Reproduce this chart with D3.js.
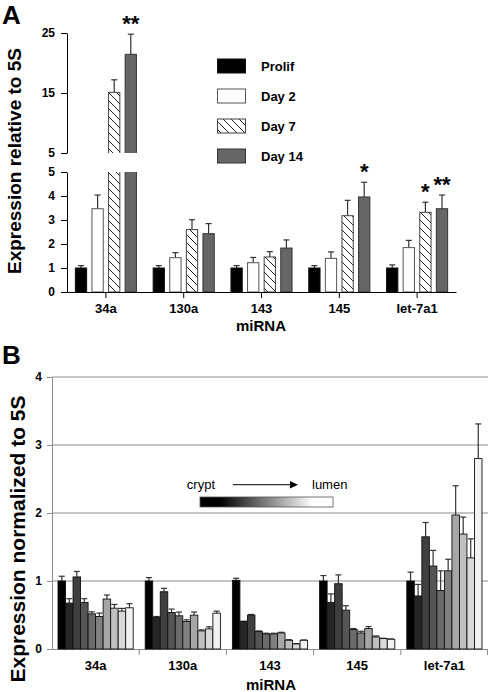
<!DOCTYPE html>
<html><head><meta charset="utf-8">
<script src="https://cdn.jsdelivr.net/npm/d3@7"></script>
<style>body{margin:0;background:#fff}svg{display:block}text{font-family:"Liberation Sans",Arial,sans-serif}</style>
</head><body>
<script>
// ---------- Panel A data ----------
const catsA = ["34a","130a","143","145","let-7a1"];
const seriesA = ["Prolif","Day 2","Day 7","Day 14"];
const prolif = [1.0, 1.0, 1.0, 1.0, 1.0];
const prolifErr = [0.1, 0.1, 0.1, 0.1, 0.13];
const day2 = [3.47, 1.43, 1.22, 1.40, 1.85];
const day2Err = [0.57, 0.21, 0.22, 0.27, 0.30];
const day7 = [15.1, 2.60, 1.46, 3.18, 3.32];
const day7Err = [2.1, 0.41, 0.22, 0.64, 0.42];
const day14 = [21.45, 2.43, 1.83, 3.96, 3.47];
const day14Err = [3.35, 0.42, 0.34, 0.61, 0.57];
const ticksLowA = [0,1,2,3,4,5];
const ticksHighA = [5,15,25];
const starsA = [{cat:"34a",s:"Day 14",t:"**"},{cat:"145",s:"Day 14",t:"*"},{cat:"let-7a1",s:"Day 7",t:"*"},{cat:"let-7a1",s:"Day 14",t:"**"}];

// ---------- Panel B data ----------
const catsB = ["34a","130a","143","145","let-7a1"];
const vals34a = [1.0, 0.675, 1.06, 0.685, 0.517, 0.478, 0.734, 0.60, 0.557, 0.606];
const err34a  = [0.07, 0.065, 0.08, 0.055, 0.03, 0.05, 0.06, 0.055, 0.04, 0.06];
const vals130a = [1.0, 0.468, 0.842, 0.537, 0.488, 0.404, 0.498, 0.266, 0.296, 0.527];
const err130a  = [0.05, 0.01, 0.05, 0.05, 0.055, 0.025, 0.045, 0.015, 0.03, 0.03];
const vals143 = [1.01, 0.404, 0.498, 0.256, 0.222, 0.222, 0.236, 0.128, 0.074, 0.128];
const err143  = [0.03, 0.005, 0.01, 0.01, 0.01, 0.01, 0.01, 0.01, 0.005, 0.005];
const vals145 = [1.0, 0.685, 0.96, 0.571, 0.286, 0.236, 0.30, 0.177, 0.153, 0.143];
const err145  = [0.08, 0.125, 0.13, 0.065, 0.015, 0.025, 0.03, 0.015, 0.005, 0.005];
const valsLet = [1.0, 0.78, 1.65, 1.22, 0.86, 1.15, 1.97, 1.69, 1.34, 2.80];
const errLet  = [0.13, 0.17, 0.21, 0.23, 0.29, 0.17, 0.43, 0.25, 0.28, 0.51];
const positionsB = d3.range(10);
const ticksB = [0,1,2,3,4];

const W = 488, H = 692;
const svg = d3.select("body").append("svg").attr("width", W).attr("height", H);
const defs = svg.append("defs");
const pat = defs.append("pattern").attr("id","hatch").attr("patternUnits","userSpaceOnUse")
  .attr("width",8).attr("height",8);
pat.append("rect").attr("width",8).attr("height",8).attr("fill","#fff");
pat.append("path").attr("d","M-2,-2L10,10M-2,6L2,10M6,-2L10,2").attr("stroke","#222").attr("stroke-width",1);

// ================= Panel A =================
const A = svg.append("g");
const x0A = d3.scaleBand().domain(catsA).range([67, 456]);
const x1A = d3.scaleBand().domain(seriesA).range([-33.2, 33.2]).paddingInner(0.32).paddingOuter(0.16);
const yLow = d3.scaleLinear().domain([0,5]).range([292,172]);
const yHigh = d3.scaleLinear().domain([5,25]).range([153,33]);
const yA = v => v <= 5 ? yLow(v) : yHigh(v);
const fills = {"Prolif":"#000","Day 2":"#fff","Day 7":"url(#hatch)","Day 14":"#666"};
const strokes = {"Prolif":"#111","Day 2":"#555","Day 7":"#444","Day 14":"#333"};
const valsA = {"Prolif":prolif,"Day 2":day2,"Day 7":day7,"Day 14":day14};
const errsA = {"Prolif":prolifErr,"Day 2":day2Err,"Day 7":day7Err,"Day 14":day14Err};
const rowsA = [];
seriesA.forEach(s => catsA.forEach((c,i) => rowsA.push({s, c, v: valsA[s][i], e: errsA[s][i]})));
const cx = d => x0A(d.c) + x0A.bandwidth()/2 + x1A(d.s);
const bwA = x1A.bandwidth();

rowsA.forEach(d => {
  const xm = cx(d) + bwA/2, yt = yA(d.v + d.e), yb = yA(d.v);
  A.append("line").attr("x1",xm).attr("x2",xm).attr("y1",yt).attr("y2",yb).attr("stroke","#333").attr("stroke-width",1.2);
  A.append("line").attr("x1",xm-3).attr("x2",xm+3).attr("y1",yt).attr("y2",yt).attr("stroke","#333").attr("stroke-width",1.2);
});
rowsA.forEach(d => {
  const x = cx(d), w = bwA;
  if (d.v <= 5) {
    A.append("rect").attr("x",x).attr("y",yLow(d.v)).attr("width",w).attr("height",yLow(0)-yLow(d.v))
      .attr("fill",fills[d.s]).attr("stroke",strokes[d.s]).attr("stroke-width",1);
  } else {
    A.append("rect").attr("x",x).attr("y",yLow(5)).attr("width",w).attr("height",yLow(0)-yLow(5)).attr("fill",fills[d.s]);
    A.append("path").attr("d",`M${x},${yLow(5)}V${yLow(0)}H${x+w}V${yLow(5)}`).attr("fill","none").attr("stroke",strokes[d.s]);
    A.append("rect").attr("x",x).attr("y",yHigh(d.v)).attr("width",w).attr("height",yHigh(5)-yHigh(d.v)).attr("fill",fills[d.s]);
    A.append("path").attr("d",`M${x},${yHigh(5)}V${yHigh(d.v)}H${x+w}V${yHigh(5)}`).attr("fill","none").attr("stroke",strokes[d.s]);
  }
});
const axStyle = g => { g.selectAll("path,line").attr("stroke","#000"); g.selectAll("text").attr("font-size",12).attr("font-weight","bold").attr("fill","#000"); };
const fmt = d3.format("d");
A.append("g").attr("transform","translate(67,0)").call(d3.axisLeft(yLow).tickValues(ticksLowA).tickFormat(fmt).tickSize(6).tickSizeOuter(0).tickPadding(6)).call(axStyle);
A.append("g").attr("transform","translate(67,0)").call(d3.axisLeft(yHigh).tickValues(ticksHighA).tickFormat(fmt).tickSize(6).tickSizeOuter(0).tickPadding(6)).call(axStyle);
const xaA = A.append("g").attr("transform","translate(0,292)").call(d3.axisBottom(x0A).tickSize(6).tickSizeOuter(0).tickPadding(6)).call(axStyle);
xaA.selectAll("text").attr("font-size",13);
starsA.forEach(st => {
  const i = catsA.indexOf(st.cat);
  const d = {c: st.cat, s: st.s};
  const top = yA(valsA[st.s][i] + errsA[st.s][i]);
  A.append("text").attr("x", cx(d)+bwA/2).attr("y", top - 16 + 12.5).attr("text-anchor","middle")
    .attr("font-size",22).attr("font-weight","bold").text(st.t);
});
seriesA.forEach((s,i) => {
  const y = 59 + i*30;
  A.append("rect").attr("x",217.5).attr("y",y).attr("width",28).attr("height",14).attr("fill",fills[s]).attr("stroke",strokes[s]);
  A.append("text").attr("x",261).attr("y",y+12).attr("font-size",13).attr("font-weight","bold").text(s);
});
A.append("text").attr("x",2).attr("y",24).attr("font-size",26).attr("font-weight","bold").text("A");
A.append("text").attr("transform","translate(21,161) rotate(-90)").attr("text-anchor","middle")
  .attr("font-size",19).attr("font-weight","bold").text("Expression relative to 5S");
A.append("text").attr("x",261).attr("y",331).attr("text-anchor","middle").attr("font-size",15).attr("font-weight","bold").text("miRNA");

// ================= Panel B =================
const B = svg.append("g");
const x0B = d3.scaleBand().domain(catsB).range([52, 488]);
const x1B = d3.scaleBand().domain(positionsB).range([6, 81.2]);
const yB = d3.scaleLinear().domain([0,4]).range([649,377]);
const shades = ["#000000","#262626","#3f3f3f","#555555","#6b6b6b","#808080","#a6a6a6","#bfbfbf","#d9d9d9","#f2f2f2"];
const valsB = [vals34a, vals130a, vals143, vals145, valsLet];
const errsB = [err34a, err130a, err143, err145, errLet];

B.append("g").selectAll("line").data(ticksB.slice(1)).join("line")
  .attr("x1",52).attr("x2",488).attr("y1",d=>yB(d)).attr("y2",d=>yB(d)).attr("stroke","#8c8c8c").attr("stroke-width",1);
const axB = g => { g.selectAll("path,line").attr("stroke","#8c8c8c"); g.selectAll("text").attr("font-size",12).attr("font-weight","bold").attr("fill","#000"); };
B.append("g").attr("transform","translate(52,0)").call(d3.axisLeft(yB).tickValues(ticksB).tickFormat(fmt).tickSize(5).tickSizeOuter(0).tickPadding(5)).call(axB);
const xB = B.append("g").attr("transform","translate(0,649)").call(d3.axisBottom(x0B).tickSize(0).tickPadding(12)).call(axB);
xB.selectAll("text").attr("font-size",13);
B.append("g").selectAll("line").data(catsB.slice(1)).join("line")
  .attr("x1",d=>x0B(d)).attr("x2",d=>x0B(d)).attr("y1",649).attr("y2",655).attr("stroke","#8c8c8c");
B.append("line").attr("x1",487.5).attr("x2",487.5).attr("y1",649).attr("y2",655).attr("stroke","#8c8c8c");

catsB.forEach((c,gi) => {
  positionsB.forEach(p => {
    const v = valsB[gi][p], e = errsB[gi][p];
    const x = x0B(c) + x1B(p), w = x1B.bandwidth(), xm = x + w/2;
    B.append("line").attr("x1",xm).attr("x2",xm).attr("y1",yB(v+e)).attr("y2",yB(v)).attr("stroke","#333").attr("stroke-width",1.2);
    B.append("line").attr("x1",xm-3).attr("x2",xm+3).attr("y1",yB(v+e)).attr("y2",yB(v+e)).attr("stroke","#333").attr("stroke-width",1.2);
    B.append("rect").attr("x",x).attr("y",yB(v)).attr("width",w).attr("height",yB(0)-yB(v))
      .attr("fill",shades[p]).attr("stroke","#111").attr("stroke-width",0.9);
  });
});
const grad = defs.append("linearGradient").attr("id","cl");
grad.append("stop").attr("offset","0%").attr("stop-color","#000");
grad.append("stop").attr("offset","15%").attr("stop-color","#000");
grad.append("stop").attr("offset","85%").attr("stop-color","#fff");
grad.append("stop").attr("offset","100%").attr("stop-color","#fff");
B.append("rect").attr("x",200).attr("y",497).attr("width",133).attr("height",10).attr("fill","url(#cl)").attr("stroke","#555").attr("stroke-width",0.8);
B.append("text").attr("x",215).attr("y",489).attr("text-anchor","end").attr("font-size",13).text("crypt");
B.append("text").attr("x",312).attr("y",489).attr("font-size",13).text("lumen");
B.append("line").attr("x1",233).attr("x2",291).attr("y1",484.7).attr("y2",484.7).attr("stroke","#000").attr("stroke-width",1);
B.append("path").attr("d","M290,481L298,484.7L290,488.4Z").attr("fill","#000");

B.append("text").attr("x",2).attr("y",364).attr("font-size",26).attr("font-weight","bold").text("B");
B.append("text").attr("transform","translate(25,539) rotate(-90)").attr("text-anchor","middle")
  .attr("font-size",21).attr("font-weight","bold").text("Expression normalized to 5S");
B.append("text").attr("x",271).attr("y",690).attr("text-anchor","middle").attr("font-size",15).attr("font-weight","bold").text("miRNA");
</script>
</body></html>
